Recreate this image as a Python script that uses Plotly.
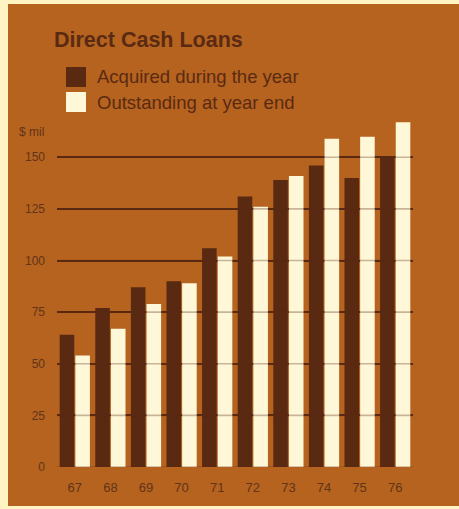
import plotly.graph_objects as go

# Direct cash loans, $ millions, fiscal years 1967-1976
years = ["67", "68", "69", "70", "71", "72", "73", "74", "75", "76"]
acquired = [64, 77, 87, 90, 106, 131, 139, 146, 140, 150]
outstanding = [54, 67, 79, 89, 102, 126, 141, 159, 160, 167]
series_names = ["Acquired during the year", "Outstanding at year end"]
y_ticks = [0, 25, 50, 75, 100, 125, 150]

W, H = 459, 509
M_L, M_R, M_T, M_B = 57, 46, 116, 42
PW, PH = W - M_L - M_R, H - M_T - M_B

PANEL = "#B5631F"
OUTER = "#FFF5C2"
DARK = "#5A2911"
CREAM = "#FFF8D8"
INK = "#5A2A12"
TICK_INK = "#623418"


def px(x):
    """Horizontal pixel -> paper coordinate."""
    return (x - M_L) / PW


def py(y):
    """Vertical pixel (from top) -> paper coordinate."""
    return (H - M_B - y) / PH


fig = go.Figure()
fig.add_trace(go.Bar(x=years, y=acquired, name=series_names[0],
                     marker=dict(color=DARK, line=dict(width=0))))
fig.add_trace(go.Bar(x=years, y=outstanding, name=series_names[1],
                     marker=dict(color=CREAM, line=dict(width=0))))

shapes = [
    # brown card behind everything
    dict(type="rect", xref="paper", yref="paper", layer="below",
         x0=px(8), x1=px(W + 2), y0=py(506), y1=py(4),
         fillcolor=PANEL, line=dict(width=0)),
]
# rules printed faintly across the bars
for v in y_ticks:
    shapes.append(dict(type="line", xref="paper", yref="y", layer="above",
                       x0=0, x1=1, y0=v, y1=v,
                       line=dict(color=DARK, width=1.6), opacity=0.32))

# legend keys
key_colors = [DARK, CREAM]
key_tops = [67, 92]
annotations = []
for name, col, top in zip(series_names, key_colors, key_tops):
    shapes.append(dict(type="rect", xref="paper", yref="paper", layer="above",
                       x0=px(66), x1=px(86), y0=py(top + 20), y1=py(top),
                       fillcolor=col, line=dict(width=0)))
    annotations.append(dict(text=name, xref="paper", yref="paper",
                            x=px(95), y=py(top + 10), xanchor="left",
                            yanchor="middle", showarrow=False,
                            font=dict(family="Liberation Sans", size=18.5,
                                      color=INK)))

annotations.append(dict(text="Direct Cash Loans", xref="paper", yref="paper",
                        x=px(52), y=py(40), xanchor="left", yanchor="middle",
                        showarrow=False,
                        font=dict(family="Liberation Sans", size=21.5,
                                  color=INK, weight="bold")))
annotations.append(dict(text="$ mil", xref="paper", yref="paper",
                        x=px(46), y=py(132), xanchor="right",
                        yanchor="middle", showarrow=False,
                        font=dict(family="Liberation Sans", size=12,
                                  color=TICK_INK)))

fig.update_layout(
    width=W, height=H,
    margin=dict(l=M_L, r=M_R, t=M_T, b=M_B, pad=0),
    paper_bgcolor=OUTER,
    plot_bgcolor="rgba(0,0,0,0)",
    barmode="group",
    bargap=0.12,
    bargroupgap=0.07,
    showlegend=False,
    shapes=shapes,
    annotations=annotations,
    xaxis=dict(type="category", showgrid=False, zeroline=False,
               showline=False, ticks="", ticklabelstandoff=11,
               tickfont=dict(family="Liberation Sans", size=13,
                             color=TICK_INK)),
    yaxis=dict(range=[0, 170], tickvals=y_ticks, showgrid=True,
               gridcolor=DARK, gridwidth=1.6, zeroline=False,
               showline=False, ticks="", ticklabelstandoff=11,
               tickfont=dict(family="Liberation Sans", size=12,
                             color=TICK_INK)),
)

fig.write_html("out.html")
